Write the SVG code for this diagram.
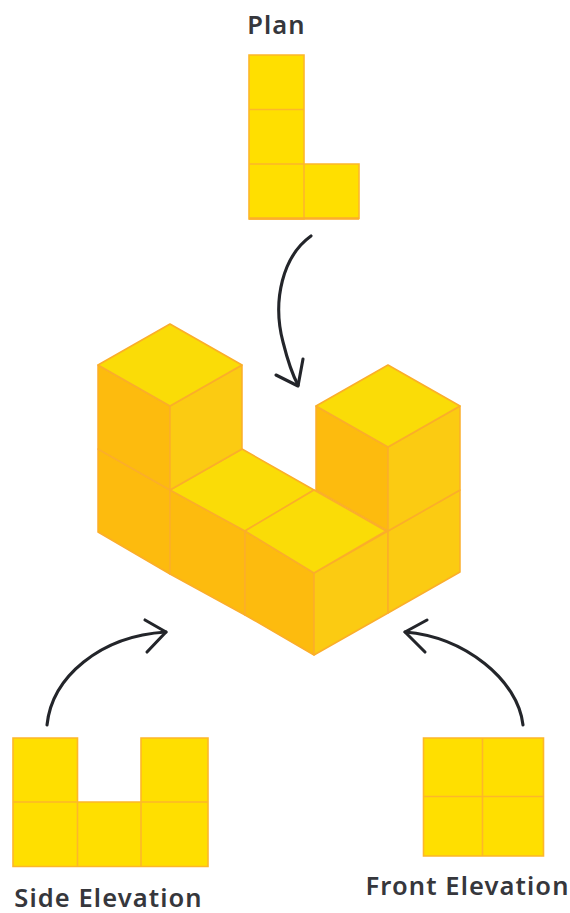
<svg xmlns="http://www.w3.org/2000/svg" width="570" height="913" viewBox="0 0 570 913">
<style>
.flat{fill:#ffdf00;stroke:#fdb72a;stroke-width:1.6}
.top{fill:#fadc07}.left{fill:#fdbb0e}.right{fill:#fbcb12}
.top,.left,.right{stroke:#fbae2a;stroke-width:1.5;stroke-linejoin:round}
.arrow{fill:none;stroke:#23252a;stroke-width:3.1;stroke-linecap:round;stroke-linejoin:round}
text{font-family:"Noto Sans","Liberation Sans",sans-serif;font-weight:600;font-size:25.5px;letter-spacing:1.1px;fill:#36373c}
</style>
<rect width="570" height="913" fill="#fff"/>
<g id="plan">
<path class="flat" d="M249 55H304V219H249ZM249 109.500H304M249 164H304M304 164H359V218.500H304Z"/>
<path d="M249 218.500H359" stroke="#fcae2d" stroke-width="2.500"/>
<text x="276.500" y="34" text-anchor="middle">Plan</text>
</g>
<g id="isometric">
<polygon class="left" points="98,449 170,490 170,574 98,532"/>
<polygon class="left" points="170,490 245,531 245,615 170,574"/>
<polygon class="left" points="245,531 314,573 314,655 245,615"/>
<polygon class="right" points="314,573 388,531 388,613 314,655"/>
<polygon class="right" points="388,531 460,490 460,572 388,613"/>
<polygon class="left" points="316,406 388,447 388,531 316,490"/>
<polygon class="right" points="388,447 460,406 460,490 388,531"/>
<polygon class="top" points="388,365 460,406 388,447 316,406"/>
<polygon class="top" points="242,449 314,490 245,531 170,490"/>
<polygon class="top" points="314,490 386,531 314,573 245,531"/>
<polygon class="left" points="98,365 170,406 170,490 98,449"/>
<polygon class="right" points="170,406 242,365 242,449 170,490"/>
<polygon class="top" points="170,324 242,365 170,406 98,365"/>
</g>
<g id="side-elevation">
<path class="flat" d="M13 738H77.500V802H13ZM141 738H208V802H141ZM13 802H77.500V866.500H13ZM77.500 802H141V866.500H77.500ZM141 802H208V866.500H141Z"/>
<text x="108.500" y="907" text-anchor="middle">Side Elevation</text>
</g>
<g id="front-elevation">
<path class="flat" d="M423.500 738H543.500V856H423.500ZM482.500 738V856M423.500 796.500H543.500"/>
<text x="467.500" y="895" text-anchor="middle">Front Elevation</text>
</g>
<g id="connectors">
<path class="arrow" d="M311 236C283 256 272 300 283 342C287 358 292 374 298 385"/>
<path class="arrow" d="M276 375L298 386L303 359"/>
<path class="arrow" d="M47 725C52 677 100 636 166 632"/>
<path class="arrow" d="M145 620L166 632L147 652"/>
<path class="arrow" d="M523 725C518 680 465 637 405 632"/>
<path class="arrow" d="M427 620L405 632L425 652"/>
</g>
</svg>
